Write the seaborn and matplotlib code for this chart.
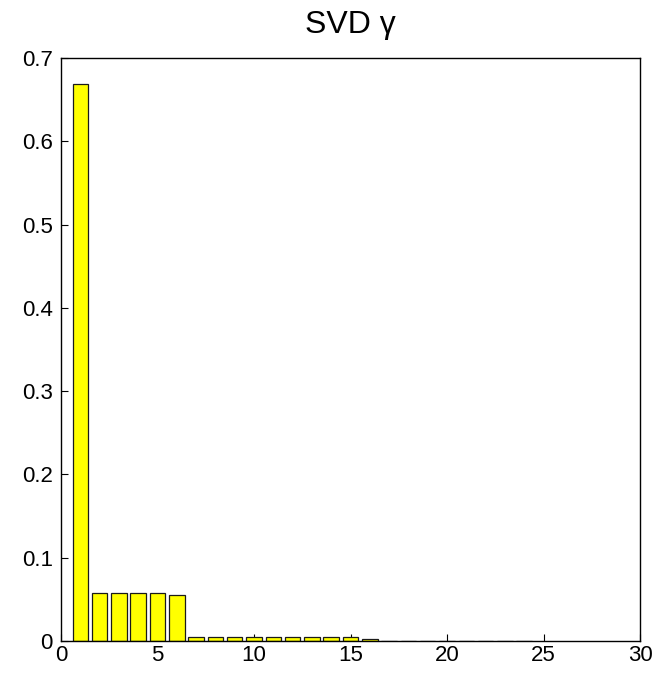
import matplotlib
matplotlib.use("Agg")
import matplotlib.pyplot as plt
import seaborn as sns
import pandas as pd

# singular value fractions by component index
components = list(range(1, 25))
gamma = [0.669, 0.0573, 0.0573, 0.0573, 0.0573, 0.0549,
         0.0045, 0.0045, 0.0045, 0.0047, 0.0045, 0.0045, 0.0045, 0.0045, 0.0045,
         0.0030,
         0.0004, 0.0004, 0.0003, 0.0003, 0.0003, 0.0003, 0.0002, 0.0002]

x_ticks = [0, 5, 10, 15, 20, 25, 30]
y_ticks = [0, 0.1, 0.2, 0.3, 0.4, 0.5, 0.6, 0.7]
y_tick_labels = ["0", "0.1", "0.2", "0.3", "0.4", "0.5", "0.6", "0.7"]

df = pd.DataFrame({"component": components, "gamma": gamma})

sns.set_style("white")
plt.rcParams["font.family"] = ["Liberation Sans", "DejaVu Sans"]

fig = plt.figure(figsize=(6.71, 6.73), dpi=100)
ax = fig.add_axes([61 / 671, 1 - 641 / 673, (640 - 61) / 671, (641 - 58) / 673])

sns.barplot(data=df, x="component", y="gamma", native_scale=True, width=0.8,
            color="#ffff00", saturation=1, edgecolor="#1a1a1a", linewidth=0.9,
            ax=ax)

ax.set_xlim(0, 30)
ax.set_ylim(0, 0.7)
ax.set_xticks(x_ticks)
ax.set_xticklabels([str(t) for t in x_ticks])
ax.set_yticks(y_ticks)
ax.set_yticklabels(y_tick_labels)
ax.set_xlabel("")
ax.set_ylabel("")
ax.tick_params(direction="in", length=5, width=0.8, labelsize=16, colors="black",
               bottom=True, left=True, top=False, right=False)
ax.tick_params(axis="x", pad=3)
ax.tick_params(axis="y", pad=6)
for side in ["left", "right", "top", "bottom"]:
    ax.spines[side].set_visible(True)
    ax.spines[side].set_color("black")
    ax.spines[side].set_linewidth(1.0)

ax.set_title("SVD γ", fontsize=23, color="black", pad=18)

fig.savefig("out.png", dpi=100, facecolor="white")
